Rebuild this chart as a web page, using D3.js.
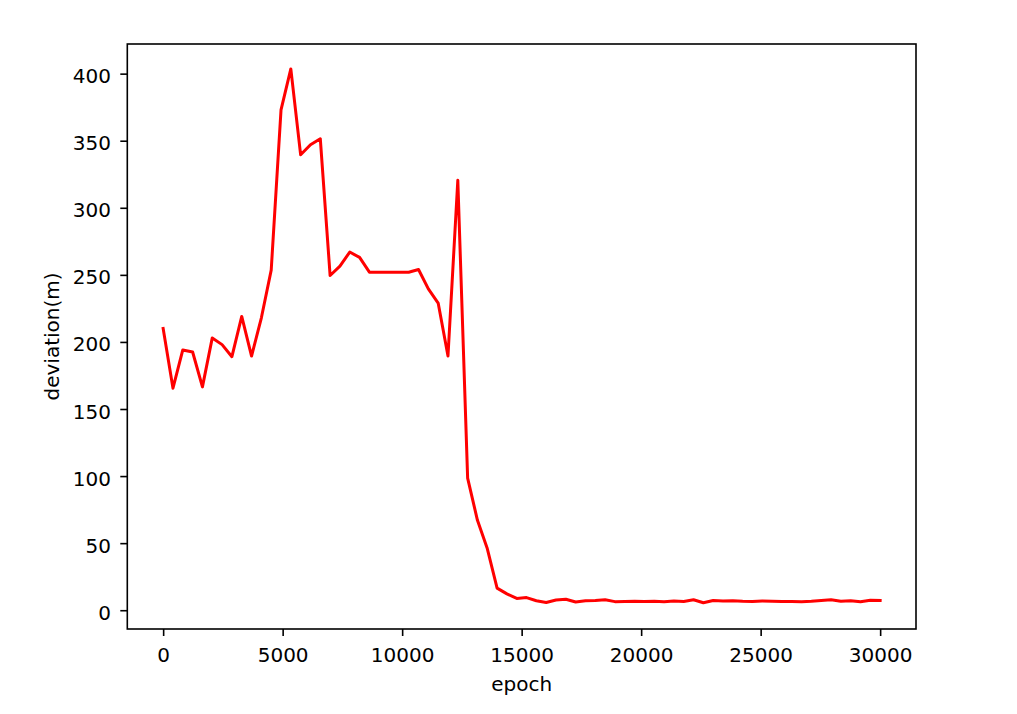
<!DOCTYPE html>
<html>
<head>
<meta charset="utf-8">
<script src="https://cdn.jsdelivr.net/npm/d3@7"></script>
<style>
  html, body { margin: 0; padding: 0; background: #fff; }
  svg { display: block; }
  text { font-family: "DejaVu Sans", sans-serif; fill: #000; }
</style>
</head>
<body>
<svg id="chart" width="1017" height="714"></svg>
<script>
const epochs = [0, 411, 822, 1233, 1644, 2055, 2466, 2877, 3288, 3699,
  4110, 4521, 4932, 5342, 5753, 6164, 6575, 6986, 7397, 7808,
  8219, 8630, 9041, 9452, 9863, 10274, 10685, 11096, 11507, 11918,
  12329, 12740, 13151, 13562, 13973, 14384, 14795, 15205, 15616, 16027,
  16438, 16849, 17260, 17671, 18082, 18493, 18904, 19315, 19726, 20137,
  20548, 20959, 21370, 21781, 22192, 22603, 23014, 23425, 23836, 24247,
  24658, 25068, 25479, 25890, 26301, 26712, 27123, 27534, 27945, 28356,
  28767, 29178, 29589, 30000];
const deviation = [210, 165.5, 194, 192.5, 166.5, 203, 198, 189, 219, 189.5,
  218, 253.5, 373, 403.5, 339.5, 347, 351.5, 249.5, 256.5, 267,
  263, 252, 252, 252, 252, 252, 254, 239.5, 229, 189.5,
  320.5, 98.5, 67, 46, 16.5, 12.2, 8.8, 9.4, 7.1, 5.8,
  7.6, 8.2, 6.1, 7.0, 7.2, 7.8, 6.4, 6.5, 6.6, 6.5,
  6.7, 6.3, 6.8, 6.5, 7.8, 5.6, 7.2, 6.8, 7.0, 6.6,
  6.5, 6.8, 6.7, 6.5, 6.5, 6.4, 6.6, 7.3, 7.8, 6.7,
  7.0, 6.3, 7.4, 7.2];
const xTicks = [0, 5000, 10000, 15000, 20000, 25000, 30000];
const yTicks = [0, 50, 100, 150, 200, 250, 300, 350, 400];
const xLabel = "epoch";
const yLabel = "deviation(m)";

const L = 127.3, R = 916, T = 44, B = 629;
const svg = d3.select("#chart");

const x = d3.scaleLinear().domain([-1500, 31500]).range([L, R]);
const y = d3.scaleLinear().domain([-14.0, 422.1]).range([B, T]);

const line = d3.line().x((d, i) => x(epochs[i])).y(d => y(d));

svg.append("path")
  .datum(deviation)
  .attr("d", line)
  .attr("fill", "none")
  .attr("stroke", "#ff0000")
  .attr("stroke-width", 3)
  .attr("stroke-linejoin", "round")
  .attr("stroke-linecap", "square");

// frame
svg.append("rect")
  .attr("x", L).attr("y", T)
  .attr("width", R - L).attr("height", B - T)
  .attr("fill", "none")
  .attr("stroke", "#000")
  .attr("stroke-width", 1.6);

const xAxis = svg.append("g")
  .attr("transform", `translate(0,${B})`)
  .call(d3.axisBottom(x).tickValues(xTicks).tickFormat(d3.format("d")).tickSize(7).tickPadding(12));
xAxis.select(".domain").remove();
xAxis.selectAll(".tick line").attr("stroke", "#000").attr("stroke-width", 1.6);
xAxis.selectAll(".tick text").attr("font-size", 20).attr("font-family", "DejaVu Sans").attr("fill", "#000");

const yAxis = svg.append("g")
  .attr("transform", `translate(${L},0)`)
  .call(d3.axisLeft(y).tickValues(yTicks).tickFormat(d3.format("d")).tickSize(7).tickPadding(9.3));
yAxis.select(".domain").remove();
yAxis.selectAll(".tick line").attr("stroke", "#000").attr("stroke-width", 1.6);
yAxis.selectAll(".tick text").attr("font-size", 20).attr("font-family", "DejaVu Sans").attr("fill", "#000").attr("dy", "0.45em");

svg.append("text")
  .attr("x", (L + R) / 2).attr("y", 691)
  .attr("text-anchor", "middle")
  .attr("font-size", 20)
  .text(xLabel);

svg.append("text")
  .attr("transform", `translate(59,${(T + B) / 2}) rotate(-90)`)
  .attr("text-anchor", "middle")
  .attr("font-size", 20)
  .text(yLabel);
</script>
</body>
</html>
